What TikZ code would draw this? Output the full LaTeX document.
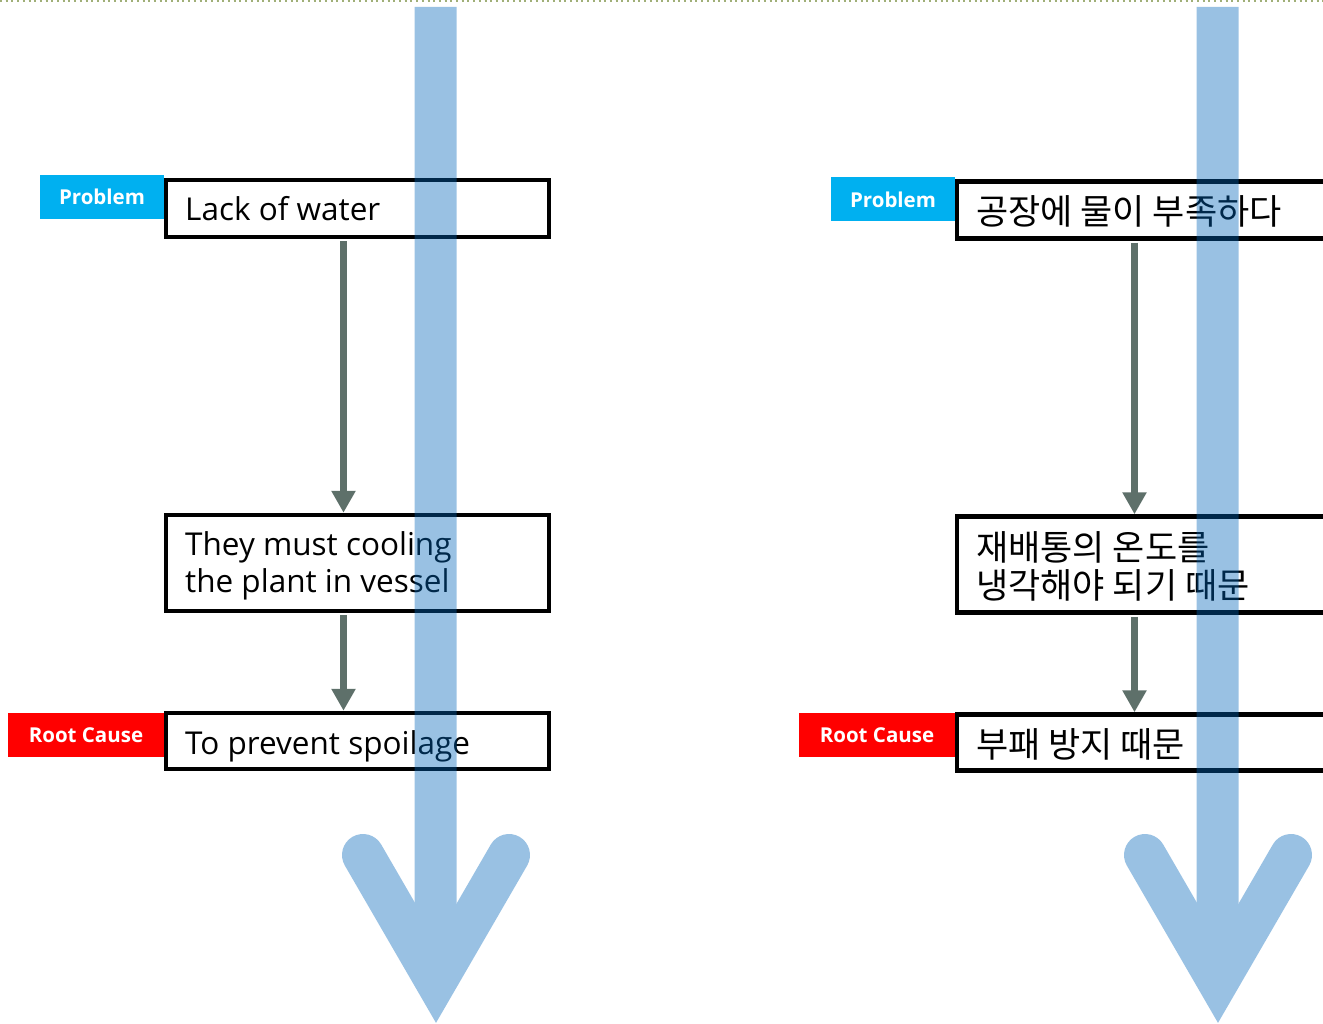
\documentclass[tikz,border=0pt]{standalone}
\usepackage{fontspec}
\setmainfont{Open Sans}
\newfontfamily\kr{Noto Sans CJK KR}
\usetikzlibrary{arrows.meta}
\definecolor{flowblue}{RGB}{0,102,187}
\definecolor{tagblue}{RGB}{0,176,240}
\definecolor{tagred}{RGB}{255,0,0}
\definecolor{linkgray}{RGB}{94,112,106}
\definecolor{dotolive}{RGB}{160,175,120}
\tikzset{
  box/.style={draw=black, line width=4.5pt, fill=white, rectangle, inner sep=0pt, minimum width=383pt},
  tag/.style={rectangle, inner sep=0pt, minimum height=44pt, text=white, font=\fontsize{20.5}{24}\selectfont\bfseries},
  txt/.style={anchor=base west, inner sep=0pt, align=left, font=\fontsize{31.5}{37}\selectfont},
  krtxt/.style={anchor=base west, inner sep=0pt, align=left, font=\kr\fontsize{35}{38}\selectfont},
  link/.style={draw=linkgray, line width=7.5pt, shorten <=2pt,
    -{Triangle[width=23pt,length=22pt]}},
  shaft/.style={draw=flowblue, line width=42pt, line cap=butt},
  chevron/.style={draw=flowblue, line width=42pt, line cap=round, line join=miter},
  topdots/.style={draw=dotolive, line width=2pt, dash pattern=on 2pt off 3.7pt}
}
\begin{document}
\begin{tikzpicture}[x=1pt,y=-1pt]
\useasboundingbox (0,0) rectangle (1323,1024);
\fill[white] (0,0) rectangle (1323,1024);
\draw[topdots] (0,1) -- (1323,1);

% ---------- English panel ----------
\node[tag, fill=tagblue, minimum width=124pt] (p1) at (102,197) {Problem};
\node[tag, fill=tagred, minimum width=156pt] (r1) at (86,735) {Root Cause};
\node[box, minimum height=57pt] (a1) at (357.5,208.5) {};
\node[box, minimum height=96pt] (a2) at (357.5,563) {};
\node[box, minimum height=56pt] (a3) at (357.5,741) {};
% base anchor of a two-line node sits on its last line
\node[txt] (ta1) at (185,221) {Lack of water};
\node[txt] (ta2) at (185,592) {They must cooling\\the plant in vessel};
\node[txt] (ta3) at (185,754) {To prevent spoilage};
\coordinate (ax) at (343.5,0);
\draw[link] (a1.south -| ax) -- (a2.north -| ax);
\draw[link] (a2.south -| ax) -- (a3.north -| ax);

% ---------- Korean panel ----------
\begin{scope}[shift={(791,1.5)}]
\node[tag, fill=tagblue, minimum width=124pt] (p2) at (102,198) {Problem};
\node[tag, fill=tagred, minimum width=156pt] (r2) at (86,733.5) {Root Cause};
\node[box, minimum height=57pt] (b1) at (357.5,208.5) {};
\node[box, minimum height=96pt] (b2) at (357.5,563) {};
\node[box, minimum height=56pt] (b3) at (357.5,741) {};
\node[krtxt] (tb1) at (185,223) {공장에 물이 부족하다};
\node[krtxt] (tb2) at (185,596.5) {재배통의 온도를\\냉각해야 되기 때문};
\node[krtxt] (tb3) at (185,755.5) {부패 방지 때문};
\coordinate (bx) at (343.5,0);
\draw[link] (b1.south -| bx) -- (b2.north -| bx);
\draw[link] (b2.south -| bx) -- (b3.north -| bx);
\end{scope}

% ---------- translucent flow arrows ----------
\begin{scope}[transparency group, opacity=0.4]
\draw[shaft] (435.5,7) -- (435.5,960);
\draw[chevron] (363,855) -- (436,981) -- (509,855);
\end{scope}
\begin{scope}[transparency group, opacity=0.4]
\draw[shaft] (1217.5,7) -- (1217.5,960);
\draw[chevron] (1145,855) -- (1218,981) -- (1291,855);
\end{scope}
\end{tikzpicture}
\end{document}
